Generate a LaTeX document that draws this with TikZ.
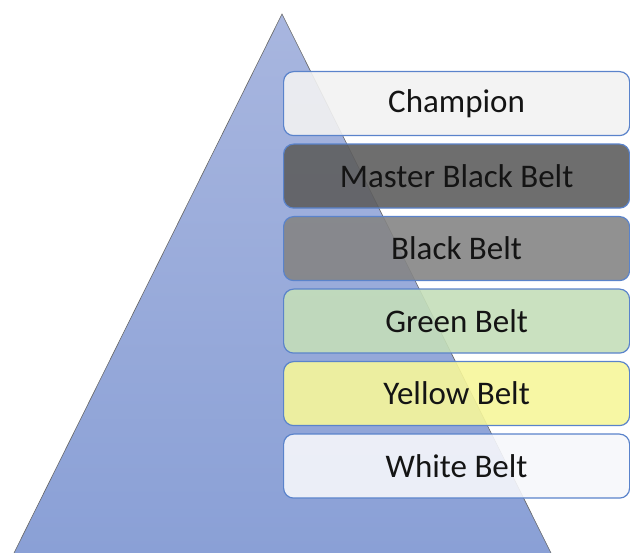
\documentclass[tikz,border=0pt]{standalone}
\usepackage{fontspec}
\setmainfont{Carlito}
\definecolor{pyrtop}{HTML}{A8B6DF}
\definecolor{pyrbot}{HTML}{8AA0D6}
\definecolor{beltedge}{HTML}{5A83CB}
\definecolor{champfill}{HTML}{F2F2F2}
\definecolor{masterfill}{HTML}{5E5E5E}
\definecolor{blackfill}{HTML}{858585}
\definecolor{greenfill}{HTML}{C4DEB9}
\definecolor{yellowfill}{HTML}{F6F69A}
\definecolor{whitefill}{HTML}{F6F7FB}
\tikzset{
  beltbox/.style={draw=beltedge, line width=1.2pt, rounded corners=10pt,
    minimum width=346pt, minimum height=64pt, inner sep=0pt,
    fill opacity=0.9, text opacity=1, anchor=north west,
    font=\fontsize{33}{40}\selectfont, text=black!92}
}
\begin{document}
\begin{tikzpicture}[x=1pt,y=-1pt]
  \useasboundingbox (0,0) rectangle (630,553);
  \begin{scope}
    \clip (0,0) rectangle (630,553);
    % pyramid
    \shade[top color=pyrtop, bottom color=pyrbot] (282,14) -- (14,553) -- (551,553) -- cycle;
    \draw[gray!80!black, line width=0.6pt] (14,553) -- (282,14) -- (551,553);
  \end{scope}
  % belt levels
  \node[beltbox, fill=champfill]  (champ)  at (283,71)    {Champion};
  \node[beltbox, fill=masterfill] (master) at (283,143.5) {Master Black Belt};
  \node[beltbox, fill=blackfill]  (black)  at (283,216)   {Black Belt};
  \node[beltbox, fill=greenfill]  (green)  at (283,288.5) {Green Belt};
  \node[beltbox, fill=yellowfill] (yellow) at (283,361)   {Yellow Belt};
  \node[beltbox, fill=whitefill]  (white)  at (283,433.5) {White Belt};
\end{tikzpicture}
\end{document}
